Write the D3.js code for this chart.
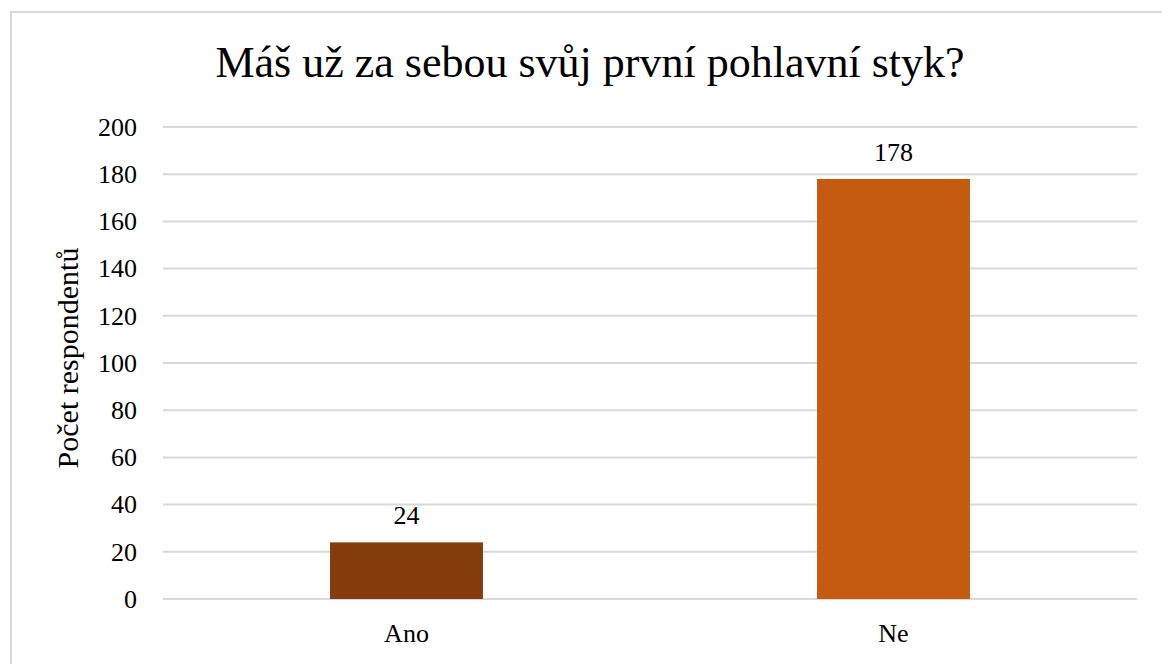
<!DOCTYPE html>
<html>
<head>
<meta charset="utf-8">
<script src="https://cdn.jsdelivr.net/npm/d3@7"></script>
<style>
  body { margin: 0; background: #fff; }
  svg { display: block; }
</style>
</head>
<body>
<div id="chart"></div>
<script>
const categories = ['Ano', 'Ne'];
const counts = [24, 178];
const barColors = ['#843C0C', '#C55A11'];
const yTicks = [0, 20, 40, 60, 80, 100, 120, 140, 160, 180, 200];
const title = 'Máš už za sebou svůj první pohlavní styk?';
const yTitle = 'Počet respondentů';

const FONT = "'Liberation Serif', 'Times New Roman', Times, 'DejaVu Serif', serif";

const W = 1162, H = 664;
const margin = {top: 127, right: 25, bottom: 65, left: 163};
const width = W - margin.left - margin.right;
const height = H - margin.top - margin.bottom;

const svg = d3.select('#chart')
  .append('svg')
    .attr('width', W)
    .attr('height', H)
    .style('font-family', FONT);

// chart area border (only left/top are visible in frame)
svg.append('rect')
  .attr('x', 11)
  .attr('y', 12)
  .attr('width', W + 50)
  .attr('height', H + 50)
  .attr('fill', 'none')
  .attr('stroke', '#d9d9d9')
  .attr('stroke-width', 2);

const g = svg.append('g')
  .attr('transform', `translate(${margin.left},${margin.top})`);

const data = categories.map((c, i) => ({cat: c, value: counts[i], color: barColors[i]}));

const x = d3.scaleBand()
  .domain(categories)
  .range([0, width])
  .paddingInner(0.686)
  .paddingOuter(0.343);

const y = d3.scaleLinear()
  .domain([0, 200])
  .range([height, 0]);

// gridlines
g.append('g')
  .selectAll('line')
  .data(yTicks)
  .join('line')
    .attr('x1', 0)
    .attr('x2', width)
    .attr('y1', d => y(d))
    .attr('y2', d => y(d))
    .attr('stroke', '#d9d9d9')
    .attr('stroke-width', 2);

// y axis labels
const yAxis = g.append('g')
  .call(d3.axisLeft(y).tickValues(yTicks).tickSize(0).tickPadding(26));
yAxis.select('.domain').remove();
yAxis.attr('font-family', null);
yAxis.selectAll('text')
  .style('font-family', FONT)
  .attr('font-size', 26)
  .attr('fill', '#000');

// x axis labels
const xAxis = g.append('g')
  .attr('transform', `translate(0,${height})`)
  .call(d3.axisBottom(x).tickSize(0).tickPadding(25));
xAxis.select('.domain').remove();
xAxis.attr('font-family', null);
xAxis.selectAll('text')
  .style('font-family', FONT)
  .attr('font-size', 26)
  .attr('fill', '#000');

// bars
g.selectAll('.bar')
  .data(data)
  .join('rect')
    .attr('class', 'bar')
    .attr('x', d => x(d.cat))
    .attr('y', d => y(d.value))
    .attr('width', x.bandwidth())
    .attr('height', d => y(0) - y(d.value))
    .attr('fill', d => d.color);

// data labels
g.selectAll('.lbl')
  .data(data)
  .join('text')
    .attr('class', 'lbl')
    .attr('x', d => x(d.cat) + x.bandwidth() / 2)
    .attr('y', d => y(d.value) - 18)
    .attr('text-anchor', 'middle')
    .attr('font-size', 26)
    .text(d => d.value);

// title
svg.append('text')
  .attr('x', 590)
  .attr('y', 77)
  .attr('text-anchor', 'middle')
  .attr('font-size', 44)
  .text(title);

// y title
svg.append('text')
  .attr('transform', `translate(78,358) rotate(-90)`)
  .attr('text-anchor', 'middle')
  .attr('font-size', 30)
  .text(yTitle);
</script>
</body>
</html>
